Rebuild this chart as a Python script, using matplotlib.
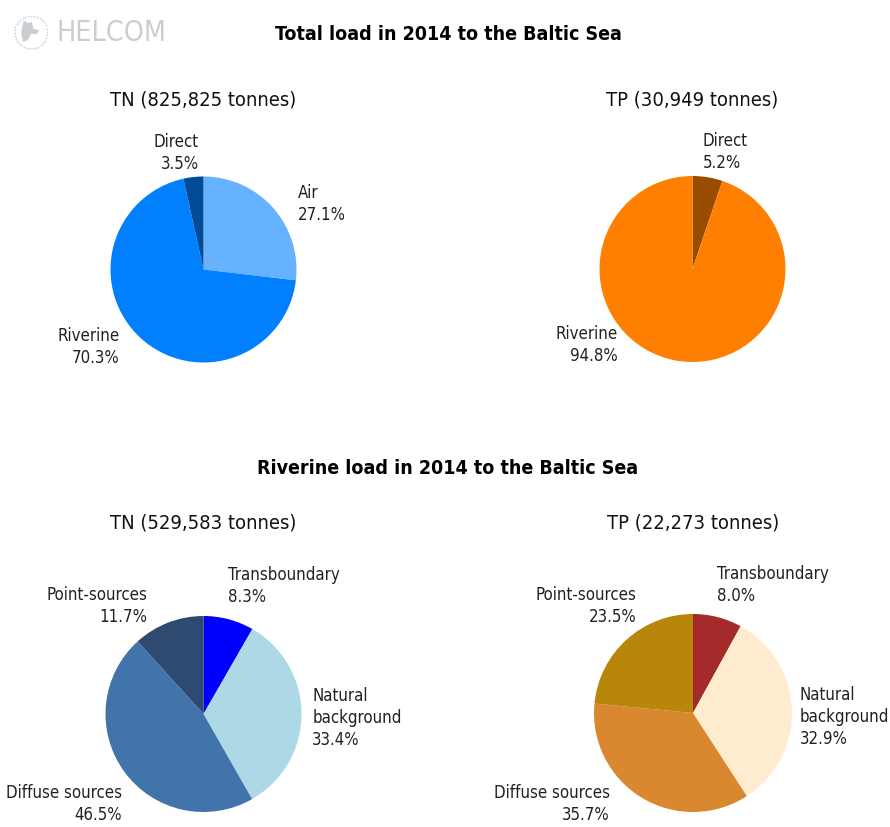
import numpy as np
import matplotlib.pyplot as plt

#
# --- Chart data
#
TOTAL_TN = 825825
TOTAL_TP = 30949
RIVER_TN = 529583
RIVER_TP = 22273

TOTAL_TN_LABELS = ["Air", "Riverine", "Direct"]
TOTAL_TN_SHARES = [27.1, 70.3, 3.5]
TOTAL_TP_LABELS = ["Direct", "Riverine"]
TOTAL_TP_SHARES = [5.2, 94.8]

RIVER_LABELS = ["Transboundary", "Natural\nbackground", "Diffuse sources", "Point-sources"]
RIVER_TN_SHARES = [8.3, 33.4, 46.5, 11.7]
RIVER_TP_SHARES = [8.0, 32.9, 35.7, 23.5]

#
# --- Styles
#
TOTAL_TN_COLORS = ["#66b2ff", "#0080ff", "#004c99"]
TOTAL_TP_COLORS = ["#994c00", "#ff8000"]
RIVER_TN_COLORS = ["#0000ff", "#add8e6", "#4174ab", "#2e4a70"]
RIVER_TP_COLORS = ["#a52a2a", "#ffebcd", "#d9882f", "#b8860b"]
LOGO_COLOR = "#c9ced2"

# label anchor (in pie radii) and horizontal alignment
TOTAL_TN_POS = [(1.01, 0.70, "left"), (-0.90, -0.83, "right"), (-0.05, 1.25, "right")]
TOTAL_TP_POS = [(0.11, 1.26, "left"), (-0.80, -0.82, "right")]
RIVER_TN_POS = [(0.25, 1.31, "left"), (1.11, -0.04, "left"),
                (-0.83, -0.92, "right"), (-0.57, 1.10, "right")]
RIVER_TP_POS = [(0.24, 1.29, "left"), (1.08, -0.04, "left"),
                (-0.84, -0.92, "right"), (-0.57, 1.08, "right")]

plt.rcParams["font.family"] = ["DejaVu Sans"]
plt.rcParams["font.stretch"] = "condensed"

W, H = 890, 827
LIM = 1.6

fig = plt.figure(figsize=(W / 100, H / 100), dpi=100)
renderer = fig.canvas.get_renderer()


def fit_size(text, width_px, **kw):
    #
    # --- pick a font size that gives the text the width it has in the reference
    #
    t = fig.text(0, 0, text, fontsize=10, **kw)
    w = t.get_window_extent(renderer).width
    t.remove()
    return 10 * width_px / w


TITLE_FS = fit_size("Total load in 2014 to the Baltic Sea", 343, fontweight="bold")
SUB_FS = fit_size("TN (825,825 tonnes)", 187)
LABEL_FS = fit_size("Transboundary", 112)
LOGO_FS = fit_size("HELCOM", 110, fontweight="light")


def draw_pie(cx, cy, radius, shares, labels, colors, positions, title, title_y):
    size = 2 * LIM * radius
    ax = fig.add_axes([(cx - size / 2) / W, (H - cy - size / 2) / H, size / W, size / H])
    ax.pie(
        shares,
        colors=colors,
        startangle=90,
        counterclock=False,
        wedgeprops={"linewidth": 0},
    )
    ax.set_xlim(-LIM, LIM)
    ax.set_ylim(-LIM, LIM)
    for share, label, (x, y, ha) in zip(shares, labels, positions):
        ax.text(x, y, f"{label}\n{share:.1f}%", ha=ha, va="center",
                fontsize=LABEL_FS, color="#222222", linespacing=1.3)
    fig.text(cx / W, 1 - title_y / H, title,
             ha="center", va="center", fontsize=SUB_FS, color="#111111")


#
# --- HELCOM logo (dotted ring emblem + name)
#
logo = fig.add_axes([13 / W, 1 - 50 / H, 36 / W, 36 / H])
logo.set_xlim(-1.1, 1.1)
logo.set_ylim(-1.1, 1.1)
logo.set_aspect("equal")
logo.axis("off")
ring = np.linspace(0.15 * np.pi, 2.05 * np.pi, 34)
logo.scatter(np.cos(ring), np.sin(ring), s=1.5, color=LOGO_COLOR, lw=0)
logo.fill([-0.45, -0.2, 0.05, 0.15, 0.5, 0.3, 0.0, -0.2, -0.5, -0.6],
          [0.7, 0.55, 0.6, 0.2, 0.1, -0.15, -0.1, -0.5, -0.6, 0.0],
          color=LOGO_COLOR, lw=0)
fig.text(57 / W, 1 - 33 / H, "HELCOM", ha="left", va="center",
         fontsize=LOGO_FS, color=LOGO_COLOR, fontweight="light")

fig.text(448 / W, 1 - 35 / H, "Total load in 2014 to the Baltic Sea",
         ha="center", va="center", fontsize=TITLE_FS, fontweight="bold")
fig.text(448 / W, 1 - 468 / H, "Riverine load in 2014 to the Baltic Sea",
         ha="center", va="center", fontsize=TITLE_FS, fontweight="bold")

draw_pie(203.5, 269.5, 93, TOTAL_TN_SHARES, TOTAL_TN_LABELS, TOTAL_TN_COLORS,
         TOTAL_TN_POS, f"TN ({TOTAL_TN:,} tonnes)", 100)
draw_pie(692.5, 269, 93, TOTAL_TP_SHARES, TOTAL_TP_LABELS, TOTAL_TP_COLORS,
         TOTAL_TP_POS, f"TP ({TOTAL_TP:,} tonnes)", 100)
draw_pie(203.5, 714, 98, RIVER_TN_SHARES, RIVER_LABELS, RIVER_TN_COLORS,
         RIVER_TN_POS, f"TN ({RIVER_TN:,} tonnes)", 523)
draw_pie(693, 713, 99, RIVER_TP_SHARES, RIVER_LABELS, RIVER_TP_COLORS,
         RIVER_TP_POS, f"TP ({RIVER_TP:,} tonnes)", 523)

fig.savefig("out.png", dpi=100)
